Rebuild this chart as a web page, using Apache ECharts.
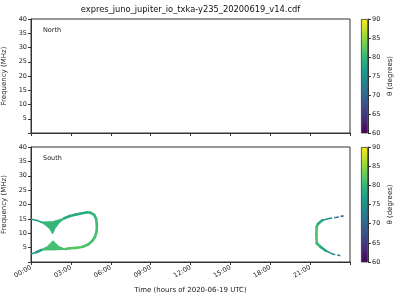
<!DOCTYPE html>
<html>
<head>
<meta charset="utf-8">
<script src="https://cdn.jsdelivr.net/npm/echarts@6/dist/echarts.min.js"></script>
<style>html,body{margin:0;padding:0;background:#fff}#c{width:400px;height:300px}</style>
</head>
<body>
<div id="c"></div>
<script>
// ---------------- data (time in hours, frequency in MHz, theta in degrees) ----------------
const chartTitle = 'expres_juno_jupiter_io_txka-y235_20200619_v14.cdf';
const panelNames = ['North', 'South'];
const freqTicks = [5, 10, 15, 20, 25, 30, 35, 40];
const timeTicks = [0, 3, 6, 9, 12, 15, 18, 21];
const thetaTicks = [60, 65, 70, 75, 80, 85, 90];

// North hemisphere: no emission visible
const northBranches = [];

// South hemisphere, morning loop: [time, frequency, theta]
const southUpperLeft = [[0.0, 14.9, 76], [0.4, 14.5, 76], [0.75, 13.9, 77]];
const southLoop = [[2.5, 15.2, 78], [2.93, 16.0, 78], [3.4, 16.5, 78], [3.68, 16.8, 78], [4.22, 17.3, 79],
  [4.5, 17.1, 79], [4.75, 16.4, 80], [4.9, 15.0, 80], [4.96, 12.5, 81], [4.93, 10.5, 81],
  [4.8, 8.6, 81], [4.6, 7.3, 81], [4.3, 6.1, 81], [3.9, 5.3, 82], [3.4, 4.9, 82],
  [2.93, 4.8, 82], [2.6, 4.5, 81]];
const southLowerLeft = [[0.8, 4.2, 78], [0.4, 3.4, 76], [0.0, 2.8, 75]];
// filled wedges: vertices [time, frequency]
const southWedgeUpper = [[0.7, 13.9], [1.6, 14.0], [2.55, 15.3], [2.1, 13.5], [1.8, 11.6], [1.62, 9.8],
  [1.42, 11.5], [1.05, 13.0]];
const southWedgeLower = [[0.75, 4.2], [1.2, 5.3], [1.45, 6.4], [1.65, 7.4], [1.85, 6.5], [2.1, 5.4],
  [2.6, 4.4], [1.7, 4.2]];
const southWedgeTheta = [80, 81];

// South hemisphere, evening arc
const southEveningUpper = [[21.47, 9.5, 82], [21.5, 12.3, 81], [21.6, 13.3, 80], [21.92, 14.5, 77],
  [22.43, 15.1, 75], [22.93, 15.5, 72], [23.3, 15.8, 69], [23.6, 16.2, 66]];
const southEveningLower = [[21.47, 9.5, 82], [21.5, 6.5, 81], [21.8, 5.2, 79], [22.18, 3.9, 77],
  [22.67, 2.8, 74], [23.05, 2.4, 72], [23.4, 2.1, 70]];

const viridis = ['#440154', '#482878', '#3e4989', '#31688e', '#26828e', '#1f9e89', '#35b779', '#6ece58', '#b5de2b', '#fde725'];

// ---------------- build ----------------
function toSegments(branches) {
  const out = [];
  branches.forEach(b => {
    for (let i = 0; i < b.length - 1; i++) {
      out.push([(b[i][2] + b[i + 1][2]) / 2, b[i][0], b[i][1], b[i + 1][0], b[i + 1][1]]);
    }
  });
  return out;
}
const southSegments = toSegments([southUpperLeft, southLoop, southLowerLeft, southEveningUpper, southEveningLower]);
const northSegments = toSegments(northBranches);
const southPolygons = [southWedgeUpper, southWedgeLower];
const southPolyData = southPolygons.map((p, i) => [southWedgeTheta[i], i]);

const FONT = 'DejaVu Sans';
const TXT = '#222';
const LINE = '#333';

function pad(v) { return (v < 10 ? '0' : '') + v + ':00'; }

function segRender(params, api) {
  const p1 = api.coord([api.value(1), api.value(2)]);
  const p2 = api.coord([api.value(3), api.value(4)]);
  const th = api.value(0);
  return {
    type: 'line',
    shape: { x1: p1[0], y1: p1[1], x2: p2[0], y2: p2[1] },
    style: {
      stroke: api.visual('color'),
      lineWidth: th < 77 ? 1.5 : 2.6,
      lineCap: th < 74 ? 'butt' : 'round',
      lineDash: th < 74 ? [3, 2] : null
    }
  };
}
function polyRender(params, api) {
  const poly = southPolygons[api.value(1)];
  const pts = poly.map(v => api.coord(v));
  return {
    type: 'polygon',
    shape: { points: pts },
    style: { fill: api.visual('color'), stroke: api.visual('color'), lineWidth: 1 }
  };
}

function mainY(gi) {
  return {
    type: 'value', gridIndex: gi, min: 0, max: 40, interval: 5,
    name: 'Frequency (MHz)', nameLocation: 'middle', nameGap: 18,
    nameTextStyle: { fontFamily: FONT, fontSize: 7, color: TXT },
    axisLine: { show: true, lineStyle: { color: LINE, width: 1 } },
    axisTick: { show: true, length: 3, lineStyle: { color: LINE } },
    axisLabel: { fontFamily: FONT, fontSize: 6.5, color: TXT, margin: 4,
      formatter: v => (freqTicks.indexOf(v) >= 0 ? String(v) : '') },
    splitLine: { show: false }
  };
}
function mainX(gi, labels) {
  return {
    type: 'value', gridIndex: gi, min: 0, max: 24, interval: 3,
    axisLine: { show: true, lineStyle: { color: LINE, width: 1 } },
    axisTick: { show: true, length: 3, lineStyle: { color: LINE } },
    axisLabel: { show: labels, fontFamily: FONT, fontSize: 6.5, color: TXT, rotate: 30, margin: 5,
      formatter: v => (timeTicks.indexOf(v) >= 0 ? pad(v) : '') },
    splitLine: { show: false },
    name: labels ? 'Time (hours of 2020-06-19 UTC)' : '',
    nameLocation: 'middle', nameGap: 25,
    nameTextStyle: { fontFamily: FONT, fontSize: 7, color: TXT }
  };
}
function cbY(gi) {
  return {
    type: 'value', gridIndex: gi, position: 'right', min: 60, max: 90, interval: 5,
    name: 'θ (degrees)', nameLocation: 'middle', nameGap: 19, nameRotate: 90,
    nameTextStyle: { fontFamily: FONT, fontSize: 7, color: TXT },
    axisLine: { show: true, lineStyle: { color: LINE, width: 1 } },
    axisTick: { show: true, length: 3, lineStyle: { color: LINE } },
    axisLabel: { fontFamily: FONT, fontSize: 6.5, color: TXT, margin: 4,
      formatter: v => (thetaTicks.indexOf(v) >= 0 ? String(v) : '') },
    splitLine: { show: false }
  };
}
function cbX(gi) {
  return { type: 'category', gridIndex: gi, data: [''], show: false };
}
const gradStops = viridis.map((c, i) => ({ offset: i / (viridis.length - 1), color: c }));
function cbSeries(gi) {
  return {
    type: 'bar', xAxisIndex: gi, yAxisIndex: gi, data: [thetaTicks[thetaTicks.length - 1]],
    barWidth: '100%', silent: true,
    itemStyle: { color: { type: 'linear', x: 0, y: 1, x2: 0, y2: 0, colorStops: gradStops },
      borderColor: LINE, borderWidth: 0.8 }
  };
}

const G = { outerBoundsMode: 'none', containLabel: false };
const option = {
  backgroundColor: '#fff',
  animation: false,
  grid: [
    Object.assign({ left: 31, top: 19, width: 319, height: 114, show: true, borderColor: LINE, borderWidth: 1, backgroundColor: 'transparent' }, G),
    Object.assign({ left: 31, top: 147, width: 319, height: 115, show: true, borderColor: LINE, borderWidth: 1, backgroundColor: 'transparent' }, G),
    Object.assign({ left: 361, top: 19, width: 7, height: 114 }, G),
    Object.assign({ left: 361, top: 147, width: 7, height: 115 }, G)
  ],
  xAxis: [mainX(0, false), mainX(1, true), cbX(2), cbX(3)],
  yAxis: [mainY(0), mainY(1), cbY(2), cbY(3)],
  visualMap: [{
    type: 'continuous', show: false, min: 60, max: 90, dimension: 0,
    seriesIndex: [0, 1, 2], inRange: { color: viridis }
  }],
  series: [
    { type: 'custom', xAxisIndex: 0, yAxisIndex: 0, renderItem: segRender, data: northSegments, clip: true, encode: { x: 1, y: 2 } },
    { type: 'custom', xAxisIndex: 1, yAxisIndex: 1, renderItem: polyRender, data: southPolyData, clip: true, z: 2 },
    { type: 'custom', xAxisIndex: 1, yAxisIndex: 1, renderItem: segRender, data: southSegments, clip: true, z: 3, encode: { x: 1, y: 2 } },
    cbSeries(2), cbSeries(3)
  ],
  graphic: [
    { type: 'text', x: 190.5, y: 10, style: { text: chartTitle, font: '8.3px "DejaVu Sans"', fill: '#111', textAlign: 'center', textVerticalAlign: 'middle' } },
    { type: 'text', x: 43, y: 30, style: { text: panelNames[0], font: '6.5px "DejaVu Sans"', fill: TXT, textAlign: 'left', textVerticalAlign: 'middle' } },
    { type: 'text', x: 43, y: 158, style: { text: panelNames[1], font: '6.5px "DejaVu Sans"', fill: TXT, textAlign: 'left', textVerticalAlign: 'middle' } }
  ]
};

const chart = echarts.init(document.getElementById('c'), null, { renderer: 'canvas' });
chart.setOption(option);
</script>
</body>
</html>
